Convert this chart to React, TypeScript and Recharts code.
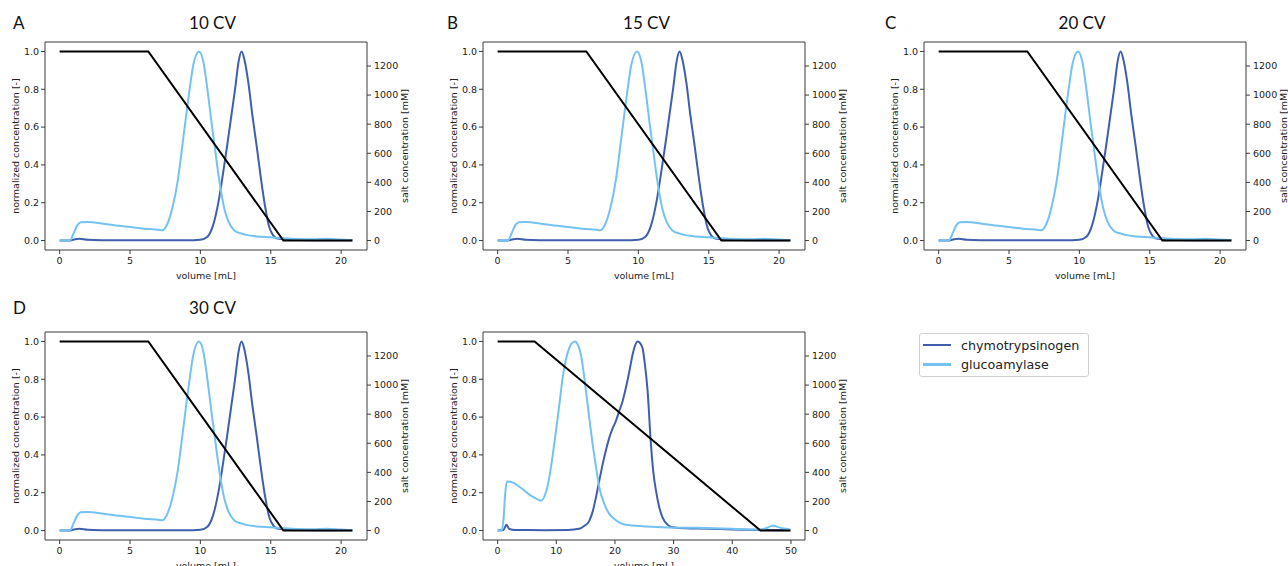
import React from 'react';
import { ComposedChart, Line, XAxis, YAxis, ReferenceLine } from 'recharts';

// panels A-D share the same traces
const volChymoA = [0, 0.7, 1.0, 1.4, 2, 3, 5, 9, 10, 10.5, 10.9, 11.3, 11.6, 11.9, 12.2, 12.5, 12.7, 12.93, 13.15, 13.4, 13.7, 14.0, 14.3, 14.6, 14.9, 15.2, 15.5, 16, 17, 18, 20.8];
const chymoA = [0, 0, 0.005, 0.01, 0.004, 0.002, 0.001, 0.001, 0.004, 0.02, 0.08, 0.21, 0.35, 0.5, 0.66, 0.82, 0.94, 1.0, 0.95, 0.84, 0.66, 0.5, 0.33, 0.18, 0.07, 0.025, 0.01, 0.005, 0.003, 0.002, 0.001];
const volGlucoA = [0, 0.5, 0.75, 1.0, 1.25, 1.5, 2, 3, 4, 5, 6, 7, 7.3, 7.6, 8.0, 8.4, 8.8, 9.2, 9.5, 9.9, 10.2, 10.5, 10.8, 11.1, 11.4, 11.7, 12.0, 12.4, 13, 14, 15, 16, 17, 18, 19, 20, 20.8];
const glucoA = [0, 0, 0.002, 0.04, 0.08, 0.097, 0.098, 0.09, 0.08, 0.072, 0.063, 0.057, 0.055, 0.08, 0.17, 0.32, 0.55, 0.78, 0.93, 1.0, 0.95, 0.8, 0.62, 0.45, 0.29, 0.17, 0.1, 0.055, 0.035, 0.022, 0.017, 0.012, 0.008, 0.007, 0.01, 0.005, 0.002];
const volSaltA = [0, 6.3, 15.9, 20.8];
const saltA = [1300, 1300, 0, 0];

// bottom middle panel (longer gradient)
const volChymoE = [0, 1.0, 1.5, 2.0, 3, 8, 12, 13.9, 14.8, 15.6, 16.2, 16.76, 17.3, 17.9, 18.5, 19.03, 19.6, 20.17, 20.7, 21.3, 21.9, 22.44, 23.0, 23.5, 23.86, 24.2, 24.7, 25.1, 25.57, 26.1, 26.5, 27, 27.5, 28.1, 29, 29.8, 32, 36, 40, 45, 49.9];
const chymoE = [0, 0.003, 0.03, 0.008, 0.003, 0.002, 0.003, 0.009, 0.025, 0.05, 0.1, 0.175, 0.26, 0.35, 0.43, 0.49, 0.54, 0.58, 0.63, 0.684, 0.76, 0.84, 0.93, 0.985, 1.0, 0.995, 0.965, 0.88, 0.737, 0.47, 0.32, 0.21, 0.13, 0.07, 0.03, 0.018, 0.012, 0.01, 0.006, 0.003, 0.002];
const volGlucoE = [0, 0.7, 1.0, 1.3, 1.6, 2.5, 4, 5.4, 6.5, 7.4, 8.2, 8.8, 9.4, 9.94, 10.5, 11.08, 11.6, 12.2, 12.7, 13.24, 13.7, 14.2, 14.6, 15.06, 15.6, 16.2, 16.8, 17.33, 18.2, 19.03, 20, 21.3, 23, 24.7, 28.1, 32, 35, 40, 44, 45.5, 46.9, 48.5, 49.9];
const glucoE = [0, 0, 0.06, 0.2, 0.26, 0.255, 0.225, 0.19, 0.17, 0.158, 0.2, 0.28, 0.4, 0.526, 0.66, 0.807, 0.9, 0.965, 0.993, 1.0, 0.98, 0.93, 0.85, 0.737, 0.6, 0.456, 0.33, 0.228, 0.14, 0.088, 0.058, 0.035, 0.027, 0.023, 0.018, 0.015, 0.014, 0.01, 0.005, 0.01, 0.025, 0.012, 0.005];
const volSaltE = [0, 6.3, 44.8, 49.9];
const saltE = [1300, 1300, 0, 0];

const ticksLeft = [0, 0.2, 0.4, 0.6, 0.8, 1.0];
const ticksRight = [0, 200, 400, 600, 800, 1000, 1200];
const ticksShort = [0, 5, 10, 15, 20];
const ticksLong = [0, 10, 20, 30, 40, 50];

const CHYMO = '#3f5fad';
const GLUCO = '#74c2f2';
const FRAME = '#3a3a3a';
const tickStyle = { fontSize: 9.5, fill: '#222', fontFamily: 'DejaVu Sans' };
const titleFont = 'Lato, sans-serif';

const toRows = (xs: number[], ys: number[]) => xs.map((v, i) => ({ v, c: ys[i] }));

type PanelProps = {
  left: number;
  top: number;
  xMax: number;
  xTicks: number[];
  volChymo: number[];
  chymo: number[];
  volGluco: number[];
  gluco: number[];
  volSalt: number[];
  salt: number[];
};

const Panel = (p: PanelProps) => {
  const pad = p.xMax * 0.05;
  return (
    <div style={{ position: 'absolute', left: p.left, top: p.top }}>
      <ComposedChart width={430} height={260} margin={{ top: 12, right: 13, left: 0, bottom: 10 }}>
        <XAxis
          type="number"
          dataKey="v"
          domain={[-pad, p.xMax + pad]}
          ticks={p.xTicks}
          allowDataOverflow
          height={30}
          tickSize={4}
          tickMargin={3}
          tick={tickStyle}
          stroke={FRAME}
          label={{ value: 'volume [mL]', position: 'insideBottom', offset: 1, style: { ...tickStyle, fill: '#222' } }}
        />
        <YAxis
          yAxisId="left"
          type="number"
          domain={[-0.05, 1.05]}
          ticks={ticksLeft}
          allowDataOverflow
          width={45}
          tickSize={4}
          tickMargin={2}
          tick={tickStyle}
          stroke={FRAME}
          tickFormatter={(v: number) => v.toFixed(1)}
          label={{ value: 'normalized concentration [-]', angle: -90, position: 'insideLeft', offset: 16, style: { ...tickStyle, textAnchor: 'middle' } }}
        />
        <YAxis
          yAxisId="right"
          orientation="right"
          type="number"
          domain={[-65, 1365]}
          ticks={ticksRight}
          allowDataOverflow
          width={50}
          tickSize={4}
          tickMargin={3}
          tick={tickStyle}
          stroke={FRAME}
          label={{ value: 'salt concentration [mM]', angle: -90, position: 'insideRight', offset: 12, style: { ...tickStyle, textAnchor: 'middle' } }}
        />
        <ReferenceLine yAxisId="left" y={1.05} stroke={FRAME} />
        <Line yAxisId="left" data={toRows(p.volChymo, p.chymo)} dataKey="c" type="monotone" stroke={CHYMO} strokeWidth={2} dot={false} isAnimationActive={false} />
        <Line yAxisId="left" data={toRows(p.volGluco, p.gluco)} dataKey="c" type="monotone" stroke={GLUCO} strokeWidth={2} dot={false} isAnimationActive={false} />
        <Line yAxisId="right" data={toRows(p.volSalt, p.salt)} dataKey="c" type="linear" stroke="#000" strokeWidth={2} dot={false} isAnimationActive={false} />
      </ComposedChart>
    </div>
  );
};

const Heading = ({ x, y, text, center }: { x: number; y: number; text: string; center?: boolean }) => (
  <div
    style={{
      position: 'absolute',
      left: center ? x - 60 : x,
      width: center ? 120 : undefined,
      top: y - 12,
      lineHeight: '24px',
      fontSize: 17,
      fontFamily: titleFont,
      color: '#111',
      textAlign: center ? 'center' : 'left',
    }}
  >
    {text}
  </div>
);

const legendItems = [
  { name: 'chymotrypsinogen', color: CHYMO },
  { name: 'glucoamylase', color: GLUCO },
];

export default function App() {
  const shared = { volChymo: volChymoA, chymo: chymoA, volGluco: volGlucoA, gluco: glucoA, volSalt: volSaltA, salt: saltA, xMax: 20.8, xTicks: ticksShort };
  return (
    <div style={{ position: 'absolute', left: 0, top: 0, width: 1288, height: 566, overflow: 'hidden', background: '#fff' }}>
      <Panel left={0} top={30} {...shared} />
      <Panel left={438} top={30} {...shared} />
      <Panel left={879} top={30} {...shared} />
      <Panel left={0} top={320} {...shared} />
      <Panel left={438} top={320} volChymo={volChymoE} chymo={chymoE} volGluco={volGlucoE} gluco={glucoE} volSalt={volSaltE} salt={saltE} xMax={49.9} xTicks={ticksLong} />

      <Heading x={13} y={23} text="A" />
      <Heading x={212.5} y={23} text="10 CV" center />
      <Heading x={447} y={23} text="B" />
      <Heading x={646.5} y={23} text="15 CV" center />
      <Heading x={885} y={23} text="C" />
      <Heading x={1082} y={23} text="20 CV" center />
      <Heading x={13} y={308} text="D" />
      <Heading x={212.5} y={308} text="30 CV" center />

      <div
        style={{
          position: 'absolute',
          left: 919,
          top: 333,
          width: 168,
          height: 42,
          border: '1px solid #cfcfcf',
          borderRadius: 3,
          fontFamily: 'DejaVu Sans',
          fontSize: 12.7,
          color: '#222',
        }}
      >
        {legendItems.map((it, i) => (
          <div key={it.name} style={{ position: 'absolute', left: 3, top: 3 + i * 19.5, height: 16, display: 'flex', alignItems: 'center' }}>
            <div style={{ width: 28, height: 2.5, background: it.color, marginRight: 10 }} />
            <span>{it.name}</span>
          </div>
        ))}
      </div>
    </div>
  );
}
